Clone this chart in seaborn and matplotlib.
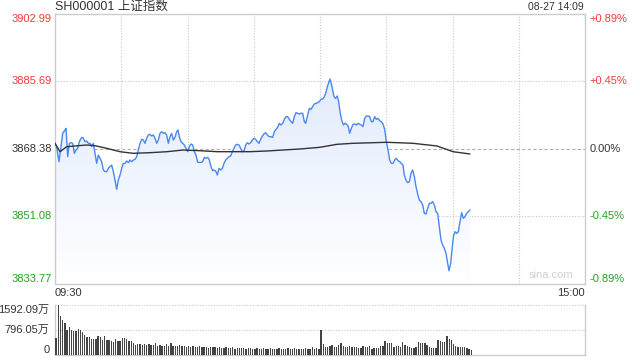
import numpy as np
import pandas as pd
import matplotlib
matplotlib.use("Agg")
import matplotlib.pyplot as plt
import seaborn as sns
from matplotlib.transforms import blended_transform_factory

sns.set_theme(style="white")
plt.rcParams['font.family'] = ['Liberation Sans', 'Noto Sans CJK SC', 'DejaVu Sans']

# ---------------- data ----------------
TITLE = "SH000001 上证指数"
STAMP = "08-27 14:09"
TIME_LABELS = ["09:30", "15:00"]
WATERMARK = "sina.com"
PREV_CLOSE = 3868.38
PRICE_TICKS = [3902.99, 3885.69, 3868.38, 3851.08, 3833.77]
PCT_TICKS = ["+0.89%", "+0.45%", "0.00%", "-0.45%", "-0.89%"]
VOL_TICKS = [1592.09, 796.05, 0]
VOL_TICK_LABELS = ["1592.09万", "796.05万", "0"]

# minutes since 09:30 (trading minutes, 240 per day)
price_min = [
    0, 0.75, 1.81, 2.72, 3.47, 4.53, 4.98, 5.74, 6.49, 7.25, 8.0, 8.75, 9.51, 10.26, 11.02, 12.08,
    12.83, 13.58, 14.34, 15.09, 15.85, 16.60, 17.36, 18.11, 18.87, 19.62, 20.38, 21.13, 21.89, 22.64,
    23.40, 24.15, 24.91, 25.66, 26.42, 27.17, 27.92, 28.68, 29.43, 30.19, 30.94, 31.70, 32.45, 33.21,
    33.96, 34.72, 35.47, 36.23, 36.98, 37.74, 38.49, 39.25, 40.0, 40.75, 41.51, 42.26, 43.02, 43.77,
    44.53, 45.28, 46.04, 46.79, 47.55, 48.30, 49.06, 49.81, 50.57, 51.32, 52.08, 52.83, 53.58, 54.34,
    55.09, 55.70, 56.30, 57.06, 57.81, 58.57, 59.32, 60.08, 60.83, 61.58, 62.34, 63.09, 63.85, 64.60,
    65.36, 66.11, 66.87, 67.62, 68.38, 69.13, 69.89, 70.64, 71.40, 72.15, 72.91, 73.51, 74.26, 75.02,
    75.77, 76.53, 77.28, 78.04, 78.79, 79.55, 80.30, 81.06, 81.81, 82.57, 83.32, 84.08, 84.83, 85.58,
    86.34, 87.09, 87.85, 88.60, 89.36, 90.11, 90.87, 91.62, 92.38, 93.13, 93.89, 94.64,
    95.40, 96.15, 97.06, 97.81, 98.57, 99.32, 100.08, 100.83, 101.58, 102.34, 103.09, 103.85, 104.60,
    105.36, 106.11, 106.87, 107.62, 108.38, 109.13, 109.89, 110.64, 111.40, 112.15, 112.91, 113.51,
    114.42, 115.17, 115.92, 116.68, 117.43, 118.19, 118.94, 119.70, 120.45, 121.21, 121.96, 122.57,
    123.32, 124.08, 124.53, 125.13, 125.74, 126.34, 127.09, 127.85, 128.45, 129.06, 129.81, 130.57,
    131.32, 132.08, 132.83, 133.43, 134.19, 134.94, 135.70, 136.45, 137.21, 137.96, 138.72, 139.47,
    140.23, 140.98, 141.74, 142.49, 143.25, 144.0, 144.75, 145.51, 146.26, 147.02, 147.77, 148.53,
    149.28, 150.04, 150.79, 151.55, 152.30, 153.06, 153.81, 154.57, 155.32, 156.08, 156.83, 157.58,
    158.19, 158.94, 159.70, 160.45, 161.21, 161.96, 162.72, 163.47, 164.23, 164.98, 165.74, 166.49,
    167.25, 168.0, 168.75, 169.51, 170.26, 171.02, 171.77, 172.53, 173.28, 174.04, 174.79, 175.55,
    176.30, 177.06, 177.81, 178.42, 179.17, 179.92, 180.53, 181.28, 181.89, 182.64, 183.40, 184.15,
    184.91, 185.66, 186.42, 187.17, 187.92,
]
price = [
    3869.83, 3868.98, 3865.13, 3868.98, 3872.40, 3873.25, 3873.68, 3866.41, 3869.83, 3870.00, 3869.83,
    3867.27, 3868.12, 3868.55, 3870.26, 3871.37, 3871.12, 3870.26, 3870.43, 3869.83, 3869.83, 3868.98,
    3869.83, 3867.27, 3864.70, 3866.84, 3865.99, 3865.13, 3863.00, 3862.57, 3862.57, 3863.42, 3863.85,
    3864.28, 3862.57, 3860.43, 3858.04, 3860.43, 3861.71, 3863.42, 3864.70, 3864.70, 3865.30, 3864.88,
    3865.56, 3865.13, 3865.56, 3865.73, 3866.41, 3868.12, 3869.83, 3870.86, 3870.69, 3869.83, 3871.12,
    3871.97, 3872.14, 3871.71, 3871.97, 3871.12, 3869.83, 3870.69, 3872.40, 3872.82, 3872.40, 3872.57,
    3871.97, 3869.83, 3871.54, 3872.40, 3870.69, 3871.37, 3872.82, 3873.25, 3871.54, 3870.26, 3869.83,
    3869.41, 3868.55, 3867.70, 3868.98, 3869.66, 3869.41, 3867.70, 3866.84, 3864.96, 3864.96, 3864.96,
    3865.13, 3866.24, 3865.99, 3866.24, 3865.56, 3863.85, 3862.82, 3863.00, 3862.57, 3861.71, 3863.42,
    3863.00, 3863.42, 3864.70, 3865.56, 3865.99, 3866.41, 3866.58, 3867.70, 3868.55, 3869.41, 3869.58,
    3869.41, 3868.55, 3867.70, 3867.87, 3869.41, 3870.00, 3869.66, 3870.00, 3870.69, 3871.12, 3870.86,
    3870.26, 3869.83, 3870.86, 3871.71, 3872.23,
    3872.57, 3871.97, 3871.54, 3871.54, 3871.37, 3872.82, 3873.42, 3873.94, 3874.96, 3874.53, 3874.96,
    3875.99, 3876.67, 3876.67, 3875.99, 3875.39, 3874.96, 3876.67, 3877.70, 3877.53, 3877.35, 3877.53,
    3877.53, 3875.39, 3874.96, 3877.10, 3878.81, 3878.55, 3879.23, 3879.92, 3880.09, 3880.26, 3880.52,
    3881.12, 3881.20, 3881.80, 3882.65, 3884.36, 3885.64, 3886.33, 3885.22, 3883.51, 3881.80, 3881.37,
    3881.97, 3880.52, 3877.95, 3875.82, 3874.53, 3874.96, 3874.70, 3874.11, 3872.40, 3873.68, 3874.70,
    3874.79, 3874.53, 3874.96, 3874.70, 3874.53, 3874.11, 3876.24, 3876.84, 3876.84, 3876.67, 3875.39,
    3875.39, 3876.67, 3875.99, 3876.24, 3875.64, 3875.39, 3874.79, 3873.42, 3870.26, 3868.12, 3865.56,
    3864.70, 3864.70, 3865.56, 3865.99, 3865.39, 3865.13, 3864.70, 3864.28, 3861.71, 3860.43, 3859.75,
    3860.00, 3862.14, 3863.00, 3861.29, 3858.72, 3856.84, 3855.30, 3854.88, 3854.02, 3851.88, 3851.71,
    3853.17, 3854.45, 3854.45, 3854.88, 3854.02, 3852.31, 3851.88, 3848.47, 3845.05, 3843.76, 3842.91,
    3841.63, 3839.06, 3837.18, 3839.06, 3843.34, 3846.33, 3847.18, 3846.76, 3847.18, 3849.75, 3852.06,
    3850.60, 3851.03, 3851.88, 3852.31, 3852.74,
]

avg_min = [0, 2.26, 5.3, 14.4, 18.1, 23.4, 29.4, 35.3, 43.0, 50.7, 58.0, 65.7, 73.4, 88.3, 96.0,
           103.2, 110.9, 120.0, 127.7, 134.9, 150.3, 162.1, 173.0, 180.2, 187.9]
avg_price = [3869.84, 3867.69, 3868.97, 3869.41, 3869.23, 3868.56, 3867.69, 3867.28, 3867.43,
             3867.69, 3868.12, 3867.94, 3867.69, 3867.69, 3867.87, 3868.12, 3868.38, 3868.82,
             3869.58, 3869.84, 3870.10, 3869.84, 3869.15, 3867.69, 3867.10]

# volume per minute (万)
volume = [
    552, 1592, 1252, 1125, 1029, 796, 891, 796, 764, 775,
    828, 796, 743, 637, 584, 584, 509, 509, 509, 605,
    562, 477, 605, 477, 477, 456, 424, 499, 446, 456,
    541, 541, 499, 446, 446, 371, 318, 350, 340, 330,
    335, 320, 360, 330, 310, 390, 300, 320, 290, 300,
    350, 300, 380, 290, 300, 280, 330, 290, 280, 270,
    300, 260, 280, 250, 270, 290, 250, 240, 260, 230,
    250, 240, 260, 220, 250, 230, 210, 240, 220, 230,
    250, 200, 220, 230, 210, 220, 200, 230, 210, 200,
    190, 210, 200, 180, 220, 200, 190, 210, 180, 200,
    200, 210, 190, 180, 200, 230, 200, 190, 210, 190,
    200, 180, 190, 220, 200, 200, 260, 190, 210, 180,
    796, 350, 244, 244, 286, 318, 244, 244, 318, 392,
    286, 265, 265, 286, 244, 244, 244, 212, 212, 286,
    244, 244, 286, 191, 212, 212, 212, 286, 286, 445,
    392, 392, 392, 265, 286, 286, 265, 414, 318, 286,
    244, 212, 212, 244, 414, 392, 392, 392, 318, 244,
    212, 212, 212, 477, 445, 414, 414, 605, 520, 477,
    350, 286, 244, 244, 244, 244, 212, 191, 159,
]

# ---------------- styling ----------------
RED = '#f23a3a'
GREEN = '#22a322'
DARK = '#333333'
GRID = '#c8c8c8'
FRAME = '#cccccc'
LINE = '#4a88ee'

fig = plt.figure(figsize=(6.4, 3.6), dpi=100)
fig.patch.set_facecolor('white')
ax = fig.add_axes([55 / 640, 76 / 360, 530 / 640, 270 / 360])
axv = fig.add_axes([55 / 640, 5 / 360, 530 / 640, 50 / 360])

ylo, yhi = PRICE_TICKS[-1], PRICE_TICKS[0]
df = pd.DataFrame({'m': price_min, 'p': price})

# gradient fill under the price line
poly = ax.fill_between(df['m'], df['p'], ylo, color='none', lw=0)
grad = np.zeros((256, 1, 4))
t = np.linspace(0, 1, 256)[:, None]
top = np.array([0.85, 0.90, 0.985])
bot = np.array([1.0, 1.0, 1.0])
grad[:, :, :3] = (top * (1 - t) + bot * t)[:, None, :]
grad[:, :, 3] = 1.0
img = ax.imshow(grad, extent=[0, 240, ylo, yhi], aspect='auto', origin='upper', zorder=1)
img.set_clip_path(poly.get_paths()[0], transform=ax.transData)

# grid
for m in range(30, 240, 30):
    ax.axvline(m, color=GRID, ls=(0, (1, 1.5)), lw=0.8, zorder=0.5)
for v in (PRICE_TICKS[1], PRICE_TICKS[3]):
    ax.axhline(v, color=GRID, ls=(0, (1, 1.5)), lw=0.8, zorder=0.5)
ax.axhline(PREV_CLOSE, color='#b0b0b0', ls=(0, (3, 2)), lw=0.8, zorder=0.5)

sns.lineplot(data=df, x='m', y='p', ax=ax, color=LINE, lw=1.0, zorder=3, estimator=None, sort=False)
sns.lineplot(x=avg_min, y=avg_price, ax=ax, color=DARK, lw=1.0, zorder=3, estimator=None, sort=False)

ax.set_xlim(0, 240)
ax.set_ylim(ylo, yhi)
ax.set_xticks([])
ax.set_yticks([])
ax.set_xlabel('')
ax.set_ylabel('')
for s in ax.spines.values():
    s.set_color(FRAME)
    s.set_linewidth(1.0)

trl = blended_transform_factory(ax.transAxes, ax.transData)
colors = [RED, RED, DARK, GREEN, GREEN]
vas = ['top', 'center', 'center', 'center', 'bottom']
for v, pct, c, va in zip(PRICE_TICKS, PCT_TICKS, colors, vas):
    ax.text(-0.006, v, f"{v:.2f}", transform=trl, ha='right', va=va, color=c, fontsize=8)
    ax.text(1.009, v, pct, transform=trl, ha='left', va=va, color=c, fontsize=8)

ax.text(0.0, -0.015, TIME_LABELS[0], transform=ax.transAxes, ha='left', va='top', color=DARK, fontsize=8)
ax.text(1.0, -0.015, TIME_LABELS[1], transform=ax.transAxes, ha='right', va='top', color=DARK, fontsize=8)
ax.text(0.978, 0.015, WATERMARK, transform=ax.transAxes, ha='right', va='bottom', color='#cfcfcf', fontsize=8)

fig.text(55 / 640, 1 - 7 / 360, TITLE, ha='left', va='center', color=DARK, fontsize=9)
fig.text(584 / 640, 1 - 7.5 / 360, STAMP, ha='right', va='center', color=DARK, fontsize=7.5)

# ---------------- volume ----------------
vdf = pd.DataFrame({'m': np.arange(len(volume)) + 0.5, 'v': volume})
sns.barplot(data=vdf, x='m', y='v', ax=axv, native_scale=True, color='#444444',
            saturation=1, width=0.6, errorbar=None, linewidth=0, zorder=3)
axv.set_xlim(0, 240)
axv.set_ylim(0, VOL_TICKS[0])
axv.set_xticks([])
axv.set_yticks([])
axv.set_xlabel('')
axv.set_ylabel('')
for v in VOL_TICKS[:2]:
    axv.axhline(v, color=GRID, ls=(0, (1, 1.5)), lw=0.8, zorder=0.5, clip_on=False)
axv.spines['top'].set_visible(False)
for k in ('left', 'right', 'bottom'):
    axv.spines[k].set_color(FRAME)
    axv.spines[k].set_linewidth(1.0)
trv = blended_transform_factory(axv.transAxes, axv.transData)
for v, lab, va in zip(VOL_TICKS, VOL_TICK_LABELS, ['top', 'center', 'bottom']):
    axv.text(-0.01, v, lab, transform=trv, ha='right', va=va, color=DARK, fontsize=8)

fig.savefig('out.png', dpi=100, facecolor='white')
